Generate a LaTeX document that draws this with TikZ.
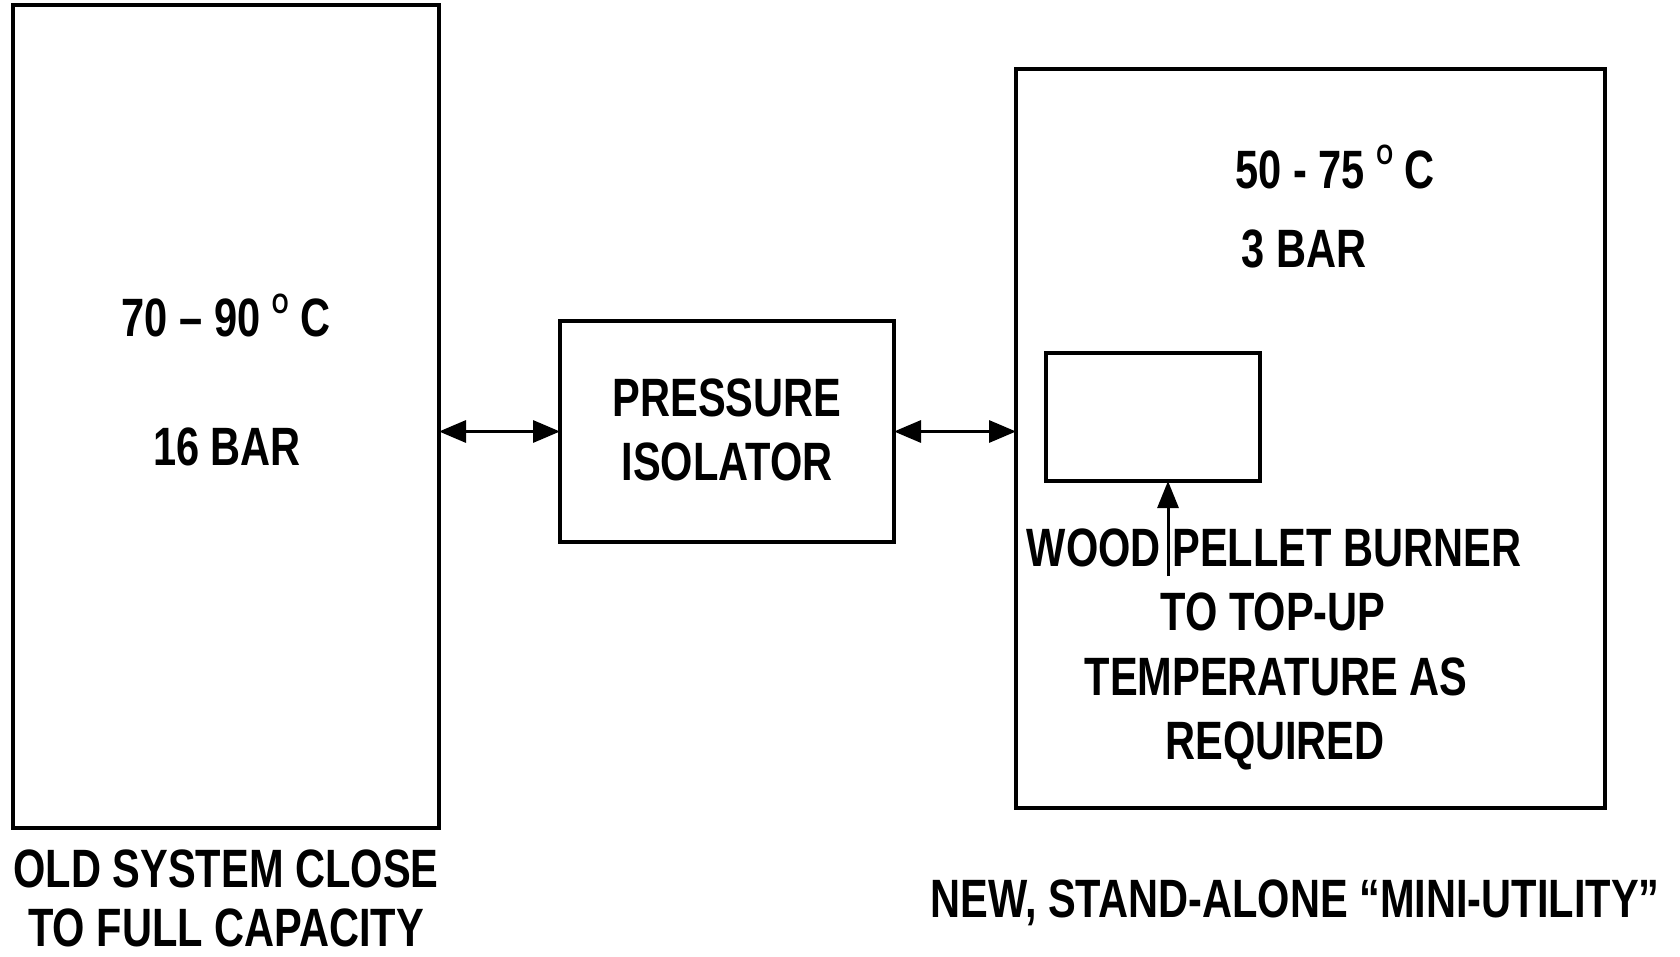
\documentclass[tikz,border=0pt]{standalone}
\usepackage{fontspec}
\setmainfont{Liberation Sans}[FakeStretch=0.77]
\usetikzlibrary{arrows.meta}
\newcommand{\dego}{\raisebox{24pt}{\fontsize{28pt}{28pt}\selectfont O}}
\tikzset{
  box/.style={draw, line width=3.5pt, inner sep=0pt, outer sep=0pt, fill=none},
  lbl/.style={anchor=base, inner sep=0pt, font=\fontsize{54pt}{64pt}\selectfont\bfseries},
  conn/.style={line width=3.2pt, {Triangle[length=27pt,width=22pt]}-{Triangle[length=27pt,width=22pt]}},
  up/.style={line width=3pt, -{Triangle[length=27pt,width=21pt]}}
}
\begin{document}
\begin{tikzpicture}[x=1pt,y=-1pt]
\useasboundingbox (0,0) rectangle (1680,957);
% boxes
\node[box, minimum width=426pt, minimum height=823pt] (L) at (226,416.5) {};
\node[box, minimum width=334pt, minimum height=221pt] (P) at (727,431.5) {};
\node[box, minimum width=589pt, minimum height=739pt] (R) at (1310.5,438.5) {};
\node[box, minimum width=214pt, minimum height=128pt] (S) at (1153,417) {};
% texts
\node[lbl] (t1) at (226,337) {70 -- 90 \dego\ C};
\node[lbl] (t2) at (227,465) {16 BAR};
\node[lbl] (t3) at (727,416) {PRESSURE};
\node[lbl] (t4) at (727,480) {ISOLATOR};
\node[lbl] (t5) at (1335,189) {50 - 75 \dego\ C};
\node[lbl] (t6) at (1304,268) {3 BAR};
\node[lbl] (t7) at (1274,566) {WOOD PELLET BURNER};
\node[lbl] (t8) at (1273,630) {TO TOP-UP};
\node[lbl] (t9) at (1276,695) {TEMPERATURE AS};
\node[lbl] (t10) at (1275,759) {REQUIRED};
\node[lbl] (t11) at (226,887) {OLD SYSTEM CLOSE};
\node[lbl] (t12) at (226,946) {TO FULL CAPACITY};
\node[lbl] (t13) at (1295,917) {NEW, STAND-ALONE “MINI-UTILITY”};
% connectors
\draw[conn] (P.west -| L.east) -- (P.west);
\draw[conn] (P.east) -- (P.east -| R.west);
\coordinate (a) at (1168,576);
\draw[up] (a) -- (a |- S.south);
\end{tikzpicture}
\end{document}
